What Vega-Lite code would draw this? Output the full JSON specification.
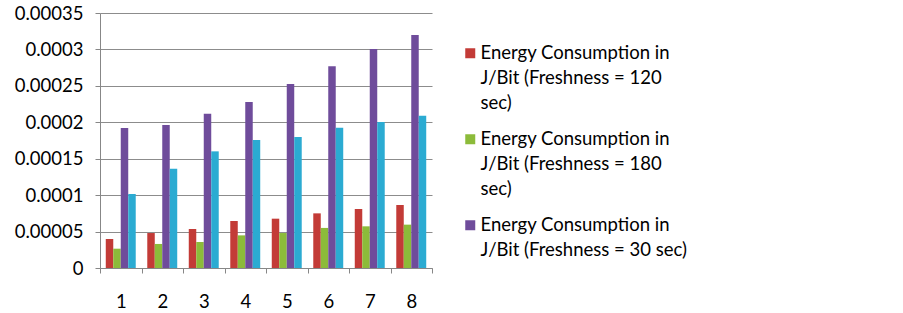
{
  "$schema": "https://vega.github.io/schema/vega-lite/v6.json",
  "width": 332,
  "height": 255,
  "autosize": {"type": "none"},
  "padding": {"left": 100, "top": 13, "right": 471, "bottom": 45},
  "background": "white",
  "config": {
    "view": {"stroke": null},
    "font": "Lato"
  },
  "data": {
    "values": [
      {"group": "1", "series": "Energy Consumption in J/Bit (Freshness = 120 sec)", "value": 0.0000398},
      {"group": "1", "series": "Energy Consumption in J/Bit (Freshness = 180 sec)", "value": 0.0000265},
      {"group": "1", "series": "Energy Consumption in J/Bit (Freshness = 30 sec)", "value": 0.000192},
      {"group": "1", "series": "Energy Consumption in J/Bit (Freshness = 60 sec)", "value": 0.0001016},
      {"group": "2", "series": "Energy Consumption in J/Bit (Freshness = 120 sec)", "value": 0.000048},
      {"group": "2", "series": "Energy Consumption in J/Bit (Freshness = 180 sec)", "value": 0.000033},
      {"group": "2", "series": "Energy Consumption in J/Bit (Freshness = 30 sec)", "value": 0.0001963},
      {"group": "2", "series": "Energy Consumption in J/Bit (Freshness = 60 sec)", "value": 0.0001363},
      {"group": "3", "series": "Energy Consumption in J/Bit (Freshness = 120 sec)", "value": 0.0000535},
      {"group": "3", "series": "Energy Consumption in J/Bit (Freshness = 180 sec)", "value": 0.0000357},
      {"group": "3", "series": "Energy Consumption in J/Bit (Freshness = 30 sec)", "value": 0.0002118},
      {"group": "3", "series": "Energy Consumption in J/Bit (Freshness = 60 sec)", "value": 0.0001601},
      {"group": "4", "series": "Energy Consumption in J/Bit (Freshness = 120 sec)", "value": 0.0000645},
      {"group": "4", "series": "Energy Consumption in J/Bit (Freshness = 180 sec)", "value": 0.0000448},
      {"group": "4", "series": "Energy Consumption in J/Bit (Freshness = 30 sec)", "value": 0.0002278},
      {"group": "4", "series": "Energy Consumption in J/Bit (Freshness = 60 sec)", "value": 0.0001757},
      {"group": "5", "series": "Energy Consumption in J/Bit (Freshness = 120 sec)", "value": 0.0000677},
      {"group": "5", "series": "Energy Consumption in J/Bit (Freshness = 180 sec)", "value": 0.000048},
      {"group": "5", "series": "Energy Consumption in J/Bit (Freshness = 30 sec)", "value": 0.0002525},
      {"group": "5", "series": "Energy Consumption in J/Bit (Freshness = 60 sec)", "value": 0.0001798},
      {"group": "6", "series": "Energy Consumption in J/Bit (Freshness = 120 sec)", "value": 0.000075},
      {"group": "6", "series": "Energy Consumption in J/Bit (Freshness = 180 sec)", "value": 0.000055},
      {"group": "6", "series": "Energy Consumption in J/Bit (Freshness = 30 sec)", "value": 0.0002768},
      {"group": "6", "series": "Energy Consumption in J/Bit (Freshness = 60 sec)", "value": 0.0001926},
      {"group": "7", "series": "Energy Consumption in J/Bit (Freshness = 120 sec)", "value": 0.000081},
      {"group": "7", "series": "Energy Consumption in J/Bit (Freshness = 180 sec)", "value": 0.0000572},
      {"group": "7", "series": "Energy Consumption in J/Bit (Freshness = 30 sec)", "value": 0.0003005},
      {"group": "7", "series": "Energy Consumption in J/Bit (Freshness = 60 sec)", "value": 0.0002004},
      {"group": "8", "series": "Energy Consumption in J/Bit (Freshness = 120 sec)", "value": 0.0000865},
      {"group": "8", "series": "Energy Consumption in J/Bit (Freshness = 180 sec)", "value": 0.0000595},
      {"group": "8", "series": "Energy Consumption in J/Bit (Freshness = 30 sec)", "value": 0.0003198},
      {"group": "8", "series": "Energy Consumption in J/Bit (Freshness = 60 sec)", "value": 0.000209}
    ]
  },
  "mark": {"type": "bar"},
  "encoding": {
    "x": {
      "field": "group",
      "type": "ordinal",
      "scale": {"paddingInner": 0, "paddingOuter": 0},
      "axis": {
        "title": null,
        "labelAngle": 0,
        "tickBand": "extent",
        "labelFontSize": 18.5,
        "labelColor": "#000000",
        "labelPadding": 19,
        "tickSize": 5,
        "tickColor": "#878787",
        "domainColor": "#878787",
        "grid": false
      }
    },
    "xOffset": {
      "field": "series",
      "type": "nominal",
      "sort": [
        "Energy Consumption in J/Bit (Freshness = 120 sec)",
        "Energy Consumption in J/Bit (Freshness = 180 sec)",
        "Energy Consumption in J/Bit (Freshness = 30 sec)",
        "Energy Consumption in J/Bit (Freshness = 60 sec)"
      ],
      "scale": {"paddingInner": 0, "paddingOuter": 0.77}
    },
    "y": {
      "field": "value",
      "type": "quantitative",
      "scale": {"domain": [0, 0.00035], "nice": false},
      "axis": {
        "title": null,
        "values": [0, 0.00005, 0.0001, 0.00015, 0.0002, 0.00025, 0.0003, 0.00035],
        "labelExpr": "datum.value == 0 ? '0' : replace(format(datum.value, '.5f'), /0+$/, '')",
        "labelFontSize": 18.5,
        "labelColor": "#000000",
        "labelPadding": 12,
        "tickSize": 5,
        "tickColor": "#878787",
        "domainColor": "#878787",
        "gridColor": "#8c8c8c",
        "gridWidth": 1
      }
    },
    "color": {
      "field": "series",
      "type": "nominal",
      "scale": {
        "domain": [
          "Energy Consumption in J/Bit (Freshness = 120 sec)",
          "Energy Consumption in J/Bit (Freshness = 180 sec)",
          "Energy Consumption in J/Bit (Freshness = 30 sec)",
          "Energy Consumption in J/Bit (Freshness = 60 sec)"
        ],
        "range": ["#c33b37", "#8cbb3a", "#6f4c9b", "#2babd2"]
      },
      "legend": {
        "title": null,
        "orient": "none",
        "legendX": 361,
        "legendY": 31,
        "values": [
          "Energy Consumption in J/Bit (Freshness = 120 sec)",
          "Energy Consumption in J/Bit (Freshness = 180 sec)",
          "Energy Consumption in J/Bit (Freshness = 30 sec)"
        ],
        "labelExpr": "datum.label == 'Energy Consumption in J/Bit (Freshness = 30 sec)' ? ['Energy Consumption in', 'J/Bit (Freshness = 30 sec)'] : datum.label == 'Energy Consumption in J/Bit (Freshness = 120 sec)' ? ['Energy Consumption in', 'J/Bit (Freshness = 120', 'sec)'] : ['Energy Consumption in', 'J/Bit (Freshness = 180', 'sec)']",
        "labelFontSize": 18.5,
        "labelColor": "#000000",
        "labelLimit": 400,
        "labelBaseline": "alphabetic",
        "labelOffset": 1,
        "symbolType": "square",
        "symbolSize": 100,
        "symbolStrokeWidth": 0,
        "rowPadding": 17,
        "encode": {
          "labels": {"update": {"lineHeight": {"value": 24.7}, "dy": {"value": 6}}}
        }
      }
    }
  }
}
